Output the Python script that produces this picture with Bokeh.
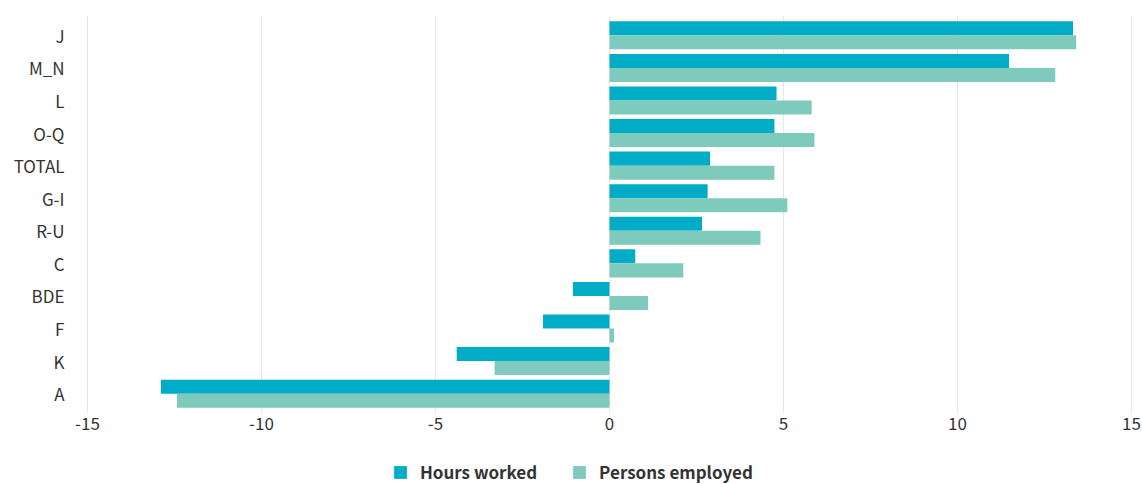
from bokeh.plotting import figure
from bokeh.layouts import column
from bokeh.models import ColumnDataSource, FactorRange, FixedTicker, Legend, LegendItem
from bokeh.transform import dodge
from bokeh.embed import file_html
from bokeh.resources import INLINE

categories = ["J", "M_N", "L", "O-Q", "TOTAL", "G-I", "R-U", "C", "BDE", "F", "K", "A"]
hours_worked = [13.32, 11.48, 4.80, 4.74, 2.89, 2.82, 2.66, 0.74, -1.05, -1.91, -4.39, -12.89]
persons_employed = [13.41, 12.81, 5.81, 5.89, 4.74, 5.11, 4.34, 2.12, 1.11, 0.13, -3.30, -12.43]
x_ticks = [-15, -10, -5, 0, 5, 10, 15]
series_names = ["Hours worked", "Persons employed"]
series_colors = ["#00acc6", "#7ecbbd"]

FONT = "Noto Sans CJK KR"
TXT = "#333333"

src = ColumnDataSource(dict(cat=categories, hours=hours_worked, persons=persons_employed))

yr = FactorRange(factors=list(reversed(categories)), range_padding=0.018)
p = figure(width=1142, height=440, y_range=yr, x_range=(-15.431, 15.029),
           output_backend="svg", toolbar_location=None,
           min_border_left=72, min_border_right=10, min_border_top=15,
           min_border_bottom=27)

p.hbar(y=dodge("cat", 0.215, range=p.y_range), left=0, right="hours", height=0.43,
       source=src, color=series_colors[0], line_color=None)
p.hbar(y=dodge("cat", -0.215, range=p.y_range), left=0, right="persons", height=0.43,
       source=src, color=series_colors[1], line_color=None)

p.outline_line_color = None
p.ygrid.grid_line_color = None
p.xgrid.grid_line_color = "#e6e6e6"
p.xgrid.grid_line_width = 1
p.xaxis.ticker = FixedTicker(ticks=x_ticks)
p.xaxis.major_label_overrides = {t: str(t) for t in x_ticks}
for ax in (p.xaxis[0], p.yaxis[0]):
    ax.axis_line_color = None
    ax.major_tick_line_color = None
    ax.minor_tick_line_color = None
    ax.major_tick_out = 0
    ax.major_tick_in = 0
    ax.major_label_text_font = FONT
    ax.major_label_text_font_size = "17px"
    ax.major_label_text_color = TXT
p.xaxis.major_label_standoff = 3
p.yaxis.major_label_standoff = 8

# legend strip below the chart (frames are aligned with the main chart's frame)
pl = figure(width=1142, height=44, output_backend="svg", toolbar_location=None,
            x_axis_location=None, y_axis_location=None,
            min_border_left=0, min_border_right=0, min_border_top=0, min_border_bottom=0,
            x_range=(0, 1), y_range=(0, 1))
pl.outline_line_color = None
pl.grid.grid_line_color = None
items = []
for name, col in zip(series_names, series_colors):
    # swatch-only renderer, hidden; the legend still draws its swatch
    r = pl.hbar(y=[50], left=[50], right=[51], height=0.5, color=col, line_color=None,
                visible=False)
    items.append(LegendItem(label=name, renderers=[r]))
leg = Legend(items=items, orientation="horizontal", location=(320, 0),
             border_line_color=None, background_fill_alpha=0,
             inactive_fill_alpha=0,
             label_text_font=FONT, label_text_font_size="17px",
             label_text_font_style="bold", label_text_color=TXT,
             glyph_width=16, glyph_height=16, label_standoff=12,
             spacing=34, padding=0, margin=0)
pl.add_layout(leg, "center")

layout = column(p, pl, spacing=0)
open("out.html", "w").write(file_html(layout, INLINE))
